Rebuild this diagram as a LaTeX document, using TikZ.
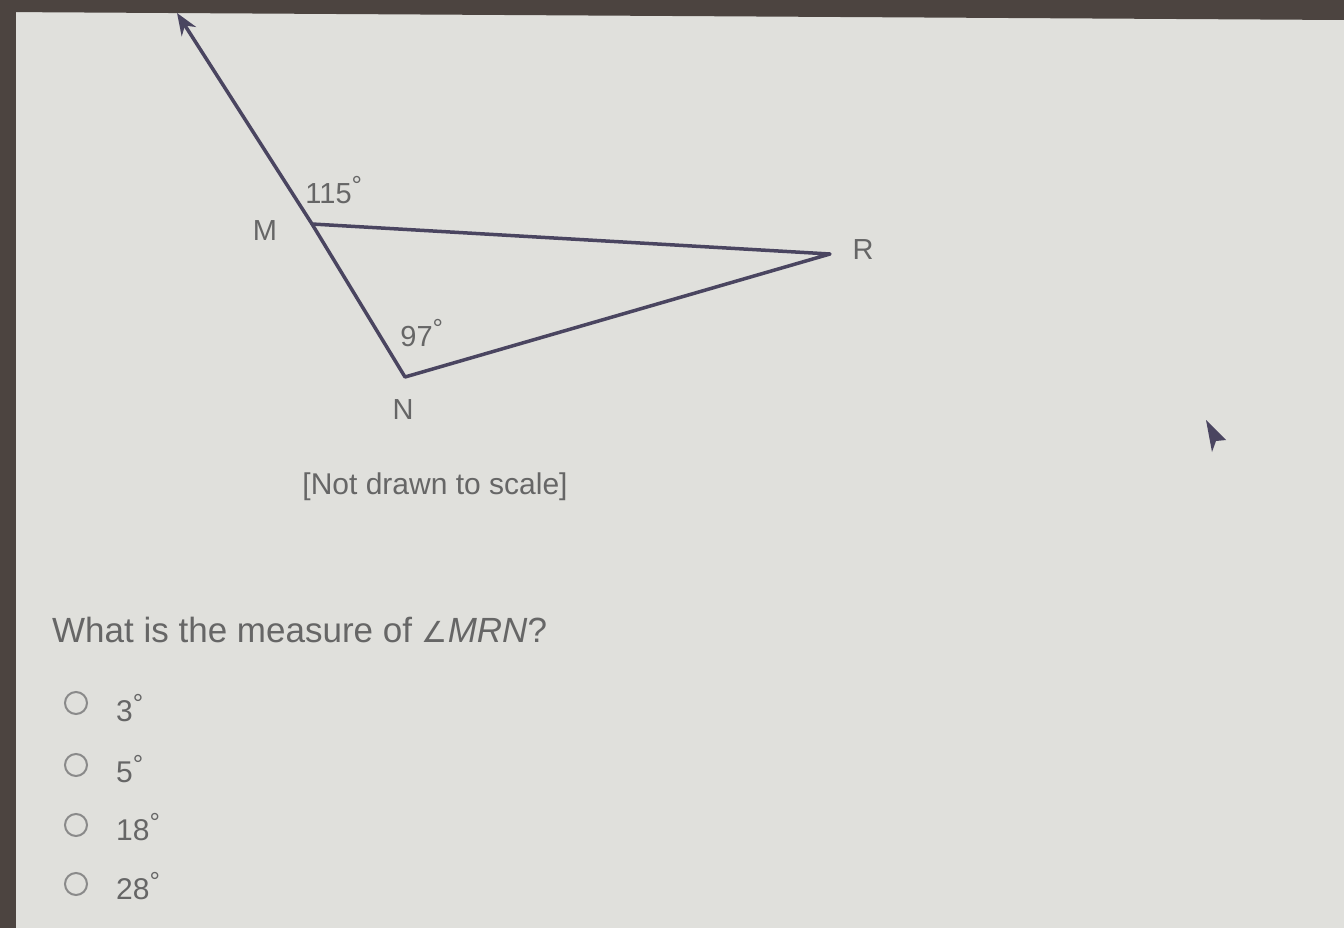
\documentclass[tikz,border=0pt]{standalone}
\usepackage{fontspec}
\setmainfont{Liberation Sans}
\usetikzlibrary{arrows.meta}
\definecolor{bg}{HTML}{E0E0DC}
\definecolor{frame}{HTML}{4C4440}
\definecolor{edge}{HTML}{4A4560}
\definecolor{txt}{HTML}{666666}
\definecolor{radio}{HTML}{8A8A8A}
\newcommand{\dg}{\textsuperscript{\fontsize{26}{26}\selectfont\char"00B0}}
\tikzset{
  seg/.style={draw=edge, line width=3.5pt, line join=round},
  vlabel/.style={text=txt, font=\fontsize{29}{31}\selectfont, inner sep=0pt},
  qtext/.style={text=txt, font=\fontsize{35}{37}\selectfont, inner sep=0pt, anchor=west},
  radiobtn/.style={circle, draw=radio, line width=2pt, minimum size=22pt, inner sep=0pt},
  choice/.style={text=txt, font=\fontsize{30}{32}\selectfont, inner sep=0pt, anchor=west},
}
\begin{document}
\begin{tikzpicture}[x=1pt,y=-1pt]
\useasboundingbox (0,0) rectangle (1344,928);
% photo background and screen bezel
\fill[bg] (0,0) rectangle (1344,928);
\fill[frame] (0,0) -- (1344,0) -- (1344,20) -- (0,12) -- cycle;
\fill[frame] (0,0) rectangle (16,928);
% geometry points
\coordinate (T) at (177,13);
\coordinate (M) at (312,224);
\coordinate (R) at (830,254);
\coordinate (N) at (405,377);
% triangle and extended ray
\draw[seg] (M) -- (R) -- (N) -- cycle;
\draw[seg, -{Stealth[length=22pt,width=17pt]}] (M) -- (T);
% vertex labels
\node[vlabel] (lM) at (265,231) {M};
\node[vlabel] (lR) at (863,250) {R};
\node[vlabel] (lN) at (403,410) {N};
% angle labels
\node[vlabel] (a115) at (334,190) {115\dg};
\node[vlabel] (a97) at (422,333) {97\dg};
% note
\node[text=txt, font=\fontsize{30}{32}\selectfont, inner sep=0pt] (note) at (435,487) {[Not drawn to scale]};
% question
\node[qtext] (q) at (52,630) {What is the measure of \fontspec{DejaVu Sans}\fontsize{29}{31}\selectfont ∠\fontspec{Liberation Sans}\fontsize{35}{37}\selectfont\itshape MRN\upshape ?};
% choices
\node[radiobtn] (r1) at (76,703) {};
\node[radiobtn] (r2) at (76,765) {};
\node[radiobtn] (r3) at (76,825) {};
\node[radiobtn] (r4) at (76,884) {};
\node[choice] (c1) at (116,708) {3\dg};
\node[choice] (c2) at (116,769) {5\dg};
\node[choice] (c3) at (116,827) {18\dg};
\node[choice] (c4) at (116,886) {28\dg};
% mouse pointer
\fill[edge] (1206,420) -- (1226,440) -- (1216,441) -- (1212,452) -- cycle;
\end{tikzpicture}
\end{document}
